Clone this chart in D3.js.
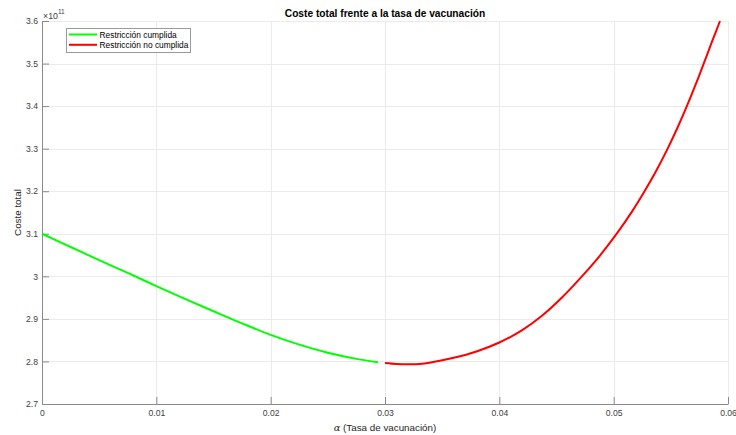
<!DOCTYPE html>
<html>
<head>
<meta charset="utf-8">
<script src="https://cdn.jsdelivr.net/npm/d3@7"></script>
<style>
  body { margin: 0; background: #fff; }
  svg { display: block; font-family: "Liberation Sans", Arial, sans-serif; }
  .grid line { stroke: #ebebeb; stroke-width: 1; }
  .axis path, .axis line { stroke: #8a8a8a; }
  .axis text { fill: #404040; font-size: 8.6px; }
</style>
</head>
<body>
<div id="chart"></div>
<script>
// tick values and labels
var xTicks = [0, 0.01, 0.02, 0.03, 0.04, 0.05, 0.06];
var xTickLabels = ["0", "0.01", "0.02", "0.03", "0.04", "0.05", "0.06"];
var yTicks = [2.7e11, 2.8e11, 2.9e11, 3.0e11, 3.1e11, 3.2e11, 3.3e11, 3.4e11, 3.5e11, 3.6e11];
var yTickLabels = ["2.7", "2.8", "2.9", "3", "3.1", "3.2", "3.3", "3.4", "3.5", "3.6"];

// series: restriccion cumplida (green)
var alphaCumplida = [0, 0.0025, 0.005, 0.0075, 0.01, 0.0125, 0.015, 0.0175, 0.02, 0.0225, 0.025, 0.0275, 0.0294];
var costeCumplida = [3.100e11, 3.069e11, 3.038e11, 3.008e11, 2.977e11, 2.947e11, 2.918e11, 2.8895e11, 2.8625e11,
    2.8395e11, 2.8205e11, 2.806e11, 2.798e11];

// series: restriccion no cumplida (red)
var alphaNoCumplida = [0.030, 0.031, 0.032, 0.033, 0.034, 0.036, 0.038, 0.040, 0.042, 0.0437, 0.0455, 0.0472,
    0.0488, 0.0503, 0.0516, 0.0527, 0.0537, 0.0547, 0.0556, 0.0564, 0.0572, 0.0579, 0.0586, 0.0593];
var costeNoCumplida = [2.7965e11, 2.7942e11, 2.7934e11, 2.794e11, 2.7975e11, 2.8085e11, 2.8235e11, 2.8445e11,
    2.8735e11, 2.9067e11, 2.9508e11, 2.9993e11, 3.0489e11, 3.1014e11, 3.1521e11, 3.200e11, 3.247e11, 3.299e11,
    3.3503e11, 3.3999e11, 3.4527e11, 3.5017e11, 3.5514e11, 3.600e11];

var seriesNames = ["Restricción cumplida", "Restricción no cumplida"];
var seriesColors = ["#00ff00", "#ff0000"];

var W = 736, H = 435,
    m = {top: 21, right: 8, bottom: 31, left: 42};

var svg = d3.select("#chart").append("svg")
    .attr("width", W)
    .attr("height", H);

var x = d3.scaleLinear().domain([0, 0.06]).range([m.left, W - m.right]);
var y = d3.scaleLinear().domain([2.7e11, 3.6e11]).range([H - m.bottom, m.top]);

// grid
var grid = svg.append("g").attr("class", "grid");
grid.selectAll(".gx").data(xTicks).enter().append("line")
    .attr("x1", function(d) { return Math.round(x(d)) + 0.5; })
    .attr("x2", function(d) { return Math.round(x(d)) + 0.5; })
    .attr("y1", m.top)
    .attr("y2", H - m.bottom);
grid.selectAll(".gy").data(yTicks).enter().append("line")
    .attr("x1", m.left)
    .attr("x2", W - m.right)
    .attr("y1", function(d) { return Math.round(y(d)) + 0.5; })
    .attr("y2", function(d) { return Math.round(y(d)) + 0.5; });

// axes (ticks point inward)
var xAxis = d3.axisBottom(x)
    .tickValues(xTicks)
    .tickFormat(function(d, i) { return xTickLabels[i]; })
    .tickSizeInner(-7)
    .tickSizeOuter(0)
    .tickPadding(6);
svg.append("g")
    .attr("class", "axis")
    .attr("transform", "translate(0," + (H - m.bottom) + ")")
    .call(xAxis);

var yAxis = d3.axisLeft(y)
    .tickValues(yTicks)
    .tickFormat(function(d, i) { return yTickLabels[i]; })
    .tickSizeInner(-7)
    .tickSizeOuter(0)
    .tickPadding(4);
svg.append("g")
    .attr("class", "axis")
    .attr("transform", "translate(" + m.left + ",0)")
    .call(yAxis);

// curves
var line = d3.line()
    .x(function(d) { return x(d[0]); })
    .y(function(d) { return y(d[1]); })
    .curve(d3.curveCatmullRom.alpha(0.5));

var series = [
    d3.zip(alphaCumplida, costeCumplida),
    d3.zip(alphaNoCumplida, costeNoCumplida)
];
series.forEach(function(pts, i) {
    svg.append("path")
        .attr("d", line(pts))
        .attr("fill", "none")
        .attr("stroke", seriesColors[i])
        .attr("stroke-width", 2);
});

// exponent
var expo = svg.append("text")
    .attr("x", m.left + 1)
    .attr("y", 19)
    .attr("fill", "#404040")
    .style("font-size", "8.8px");
expo.append("tspan").text("×10");
expo.append("tspan").attr("dy", -5).style("font-size", "6.6px").text("11");

// title
svg.append("text")
    .attr("x", (m.left + W - m.right) / 2)
    .attr("y", 17)
    .attr("text-anchor", "middle")
    .attr("fill", "#000")
    .style("font-size", "10.2px")
    .style("font-weight", "bold")
    .text("Coste total frente a la tasa de vacunación");

// axis labels
var xl = svg.append("text")
    .attr("x", (m.left + W - m.right) / 2)
    .attr("y", 431)
    .attr("text-anchor", "middle")
    .attr("fill", "#262626")
    .style("font-size", "9.8px");
xl.append("tspan").style("font-style", "italic").style("font-family", "'DejaVu Serif', serif").text("α");
xl.append("tspan").text(" (Tasa de vacunación)");

svg.append("text")
    .attr("transform", "translate(20.5," + ((m.top + H - m.bottom) / 2) + ") rotate(-90)")
    .attr("text-anchor", "middle")
    .attr("fill", "#262626")
    .style("font-size", "9.8px")
    .text("Coste total");

// legend
var lg = svg.append("g").attr("transform", "translate(66.5,28.5)");
lg.append("rect")
    .attr("width", 124)
    .attr("height", 24)
    .attr("fill", "#fff")
    .attr("stroke", "#9a9a9a")
    .attr("stroke-width", 1);
seriesNames.forEach(function(name, i) {
    var ly = 6 + i * 10.3;
    lg.append("line")
        .attr("x1", 2.5).attr("x2", 30.5)
        .attr("y1", ly).attr("y2", ly)
        .attr("stroke", seriesColors[i])
        .attr("stroke-width", 2);
    lg.append("text")
        .attr("x", 33)
        .attr("y", ly + 3)
        .attr("fill", "#000")
        .style("font-size", "8.4px")
        .text(name);
});
</script>
</body>
</html>
